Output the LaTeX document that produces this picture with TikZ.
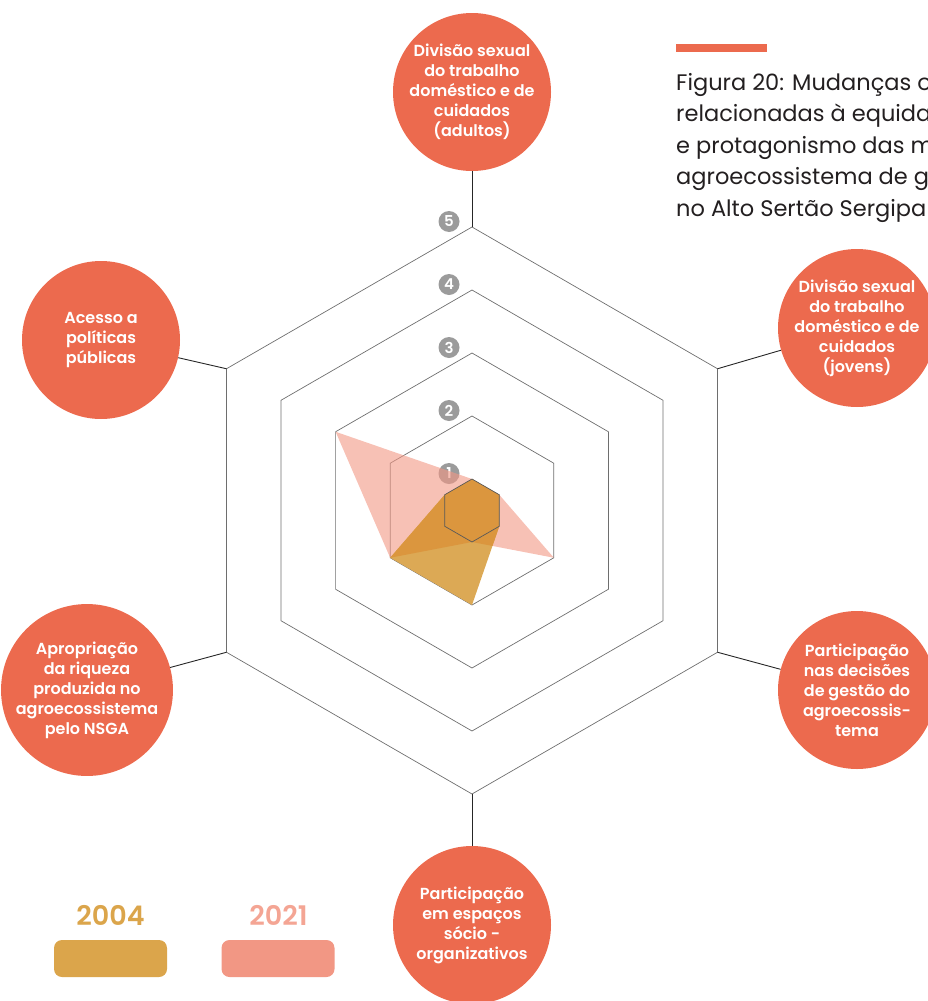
\documentclass[tikz,border=0pt]{standalone}
\usepackage{fontspec}
\setmainfont{Poppins}[BoldFont={Poppins SemiBold}]
\usetikzlibrary{calc}

\definecolor{bubble}{HTML}{EC6A4E}
\definecolor{yrA}{HTML}{DBA54B}
\definecolor{yrB}{HTML}{F29784}
\definecolor{yrBtext}{HTML}{F4A594}
\definecolor{yrAchart}{HTML}{DCA955}
\definecolor{yrAB}{HTML}{DB963E}
\definecolor{gridgray}{HTML}{6E6E6E}
\definecolor{markgray}{HTML}{9B9B9B}
\definecolor{titletext}{HTML}{231F20}

\begin{document}
\begin{tikzpicture}[x=1pt,y=1pt,
  bubblenode/.style={circle,fill=bubble,minimum size=158pt,inner sep=0pt,
    text=white,align=center,font=\bfseries\fontsize{16}{20}\selectfont},
  gridline/.style={draw=gridgray,line width=0.7pt,line join=miter},
  axisline/.style={draw=black!85,line width=0.9pt},
  levelmark/.style={circle,fill=markgray,minimum size=21pt,inner sep=0pt,
    text=white,font=\bfseries\fontsize{15}{15}\selectfont},
  legendbox/.style={rounded corners=8pt,minimum width=113pt,minimum height=37pt,inner sep=0pt},
  legendlabel/.style={font=\bfseries\fontsize{27}{27}\selectfont},
  capline/.style={anchor=base west,inner sep=0pt,text=titletext,font=\fontsize{22.5}{31.5}\selectfont}
]
\useasboundingbox (0,0) rectangle (928,-1001);
\clip (0,0) rectangle (928,-1001);

\coordinate (C) at (472,-510.5);

% concentric hexagonal grid, levels 2 to 5
\foreach \k in {2,...,5}{
  \pgfmathsetmacro{\r}{63*\k-31.5}
  \draw[gridline,shift={(C)}] (90:\r) -- (30:\r) -- (-30:\r) -- (-90:\r) -- (210:\r) -- (150:\r) -- cycle;
}

% outer vertices where the axes meet the grid
\pgfmathsetmacro{\R}{63*5-31.5}
\coordinate (vT)  at ($(C)+(90:\R)$);
\coordinate (vUR) at ($(C)+(30:\R)$);
\coordinate (vLR) at ($(C)+(-30:\R)$);
\coordinate (vB)  at ($(C)+(-90:\R)$);
\coordinate (vLL) at ($(C)+(210:\R)$);
\coordinate (vUL) at ($(C)+(150:\R)$);

% level markers
\foreach \k in {1,...,5}{
  \pgfmathsetmacro{\r}{63*\k-31.5}
  \node[levelmark] (m\k) at ($(C)+(-23,\r+5.5)$) {\k};
}

% data polygons (values: top, upper right, lower right, bottom, lower left, upper left)
\def\ra{31.5}
\def\rb{94.5}
\def\rc{157.5}
\fill[yrB,opacity=0.6,shift={(C)}] (90:\ra) -- (30:\ra) -- (-30:\rb) -- (-90:\ra) -- (210:\rb) -- (150:\rc) -- cycle;
\fill[yrAchart,shift={(C)}] (90:\ra) -- (30:\ra) -- (-30:\ra) -- (-90:\rb) -- (210:\rb) -- (150:\ra) -- cycle;
\begin{scope}
  \clip[shift={(C)}] (90:\ra) -- (30:\ra) -- (-30:\rb) -- (-90:\ra) -- (210:\rb) -- (150:\rc) -- cycle;
  \fill[yrAB,shift={(C)}] (90:\ra) -- (30:\ra) -- (-30:\ra) -- (-90:\rb) -- (210:\rb) -- (150:\ra) -- cycle;
\end{scope}
\draw[gridline,draw=black!65,shift={(C)}] (90:\ra) -- (30:\ra) -- (-30:\ra) -- (-90:\ra) -- (210:\ra) -- (150:\ra) -- cycle;

% indicator bubbles
\node[bubblenode] (nT)  at (472,-92)  {Divisão sexual\\do trabalho\\doméstico e de\\cuidados\\(adultos)};
\node[bubblenode] (nUR) at (857,-328) {Divisão sexual\\do trabalho\\doméstico e de\\cuidados\\(jovens)};
\node[bubblenode] (nLR) at (857,-690) {Participação\\nas decisões\\de gestão do\\agroecossis-\\tema};
\node[bubblenode] (nB)  at (472,-925) {Participação\\em espaços\\sócio -\\organizativos};
\node[bubblenode] (nLL) at (87,-690)  {Apropriação\\da riqueza\\produzida no\\agroecossistema\\pelo NSGA};
\node[bubblenode] (nUL) at (101,-340) {Acesso a\\políticas\\públicas};

% axes from the outer hexagon to the bubbles
\draw[axisline] (vT) -- (nT);
\draw[axisline] (vUR) -- (nUR);
\draw[axisline] (vLR) -- (nLR);
\draw[axisline] (vB) -- (nB);
\draw[axisline] (vLL) -- (nLL);
\draw[axisline] (vUL) -- (nUL);

% caption
\fill[bubble] (676,-44) rectangle (767,-51.5);
\node[capline] (cap1) at (676,-90)  {Figura 20: Mudanças o};
\node[capline] (cap2) at (676,-121.5) {relacionadas à equidad};
\node[capline] (cap3) at (676,-153) {e protagonismo das m};
\node[capline] (cap4) at (676,-184.5) {agroecossistema de g};
\node[capline] (cap5) at (676,-216) {no Alto Sertão Sergipa};

% legend
\node[legendlabel,text=yrA] (l1) at (110.5,-915.5) {2004};
\node[legendbox,fill=yrA] (b1) at (110.5,-958.5) {};
\node[legendlabel,text=yrBtext] (l2) at (278.5,-915.5) {2021};
\node[legendbox,fill=yrB] (b2) at (278,-958.5) {};
\end{tikzpicture}
\end{document}
